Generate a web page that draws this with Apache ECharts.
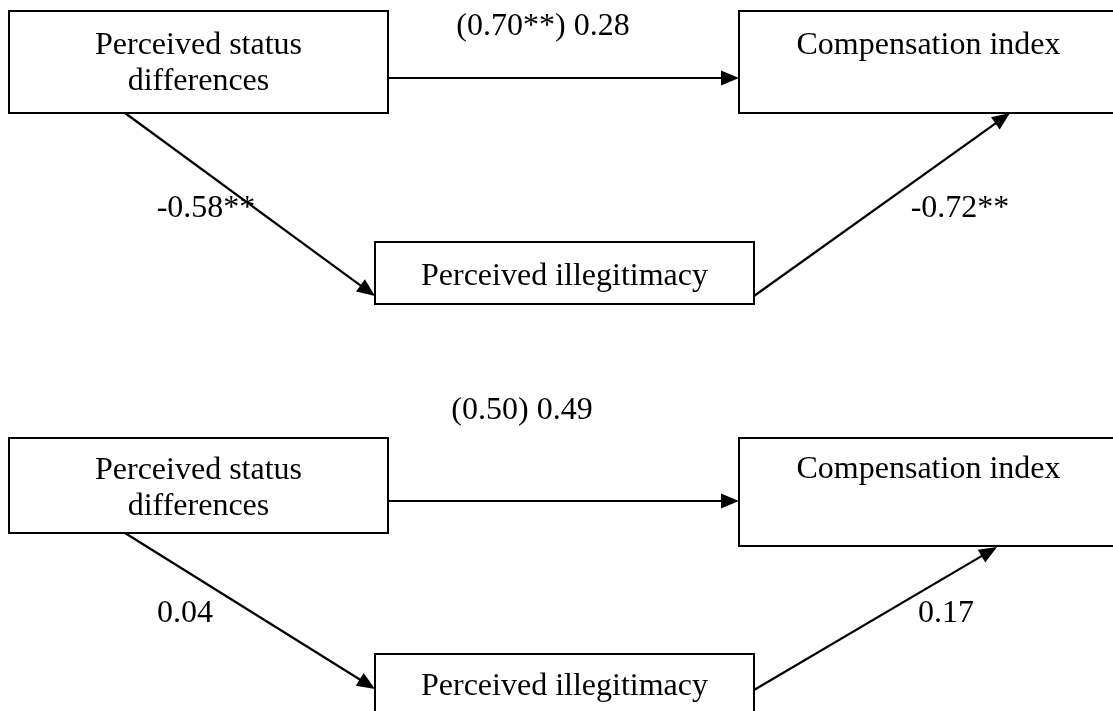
<!DOCTYPE html>
<html>
<head>
<meta charset="utf-8">
<script src="https://cdn.jsdelivr.net/npm/echarts@6/dist/echarts.min.js"></script>
<style>
html,body{margin:0;padding:0;background:#fff;}
#chart{width:1113px;height:711px;}
</style>
</head>
<body>
<div id="chart"></div>
<script>
// ---- Data ----
const nodeNames = ['Perceived status\ndifferences', 'Compensation index', 'Perceived illegitimacy'];
const models = ['Model 1', 'Model 2'];
const totalEffect = [0.70, 0.50];   // c (in parentheses)
const totalSig = ['**', ''];
const directEffect = [0.28, 0.49];  // c'
const directSig = ['', ''];
const pathA = [-0.58, 0.04];        // status -> illegitimacy
const pathASig = ['**', ''];
const pathB = [-0.72, 0.17];        // illegitimacy -> compensation
const pathBSig = ['**', ''];

// ---- Layout (diagram coordinates, 1 unit = 1 px) ----
const layout = [
  {
    boxes: [[9, 11, 388, 113], [739, 11, 1118, 113], [375, 242, 754, 304]],
    textY: [64, 46, 277],
    edges: [[[388, 78], [739, 78]], [[125, 113], [375, 296]], [[754, 296], [1010, 113]]],
    labels: [[543, 27], [206, 209], [960, 209]]
  },
  {
    boxes: [[9, 438, 388, 533], [739, 438, 1118, 546], [375, 654, 754, 716]],
    textY: [489, 470, 687],
    edges: [[[388, 501], [739, 501]], [[125, 533], [375, 689]], [[754, 690], [997, 547]]],
    labels: [[522, 411], [185, 614], [946, 614]]
  }
];

const FONT = '32px "Liberation Serif", "Times New Roman", serif';
const fmt = v => v.toFixed(2);
function edgeLabels(m) {
  return [
    '(' + fmt(totalEffect[m]) + totalSig[m] + ') ' + fmt(directEffect[m]) + directSig[m],
    fmt(pathA[m]) + pathASig[m],
    fmt(pathB[m]) + pathBSig[m]
  ];
}

const boxData = [], edgeData = [], labelData = [];
models.forEach((mName, m) => {
  nodeNames.forEach((n, i) => boxData.push([m, i]));
  [0, 1, 2].forEach(i => edgeData.push([m, i]));
  edgeLabels(m).forEach((t, i) => labelData.push([m, i, t]));
});

const chart = echarts.init(document.getElementById('chart'), null, {renderer: 'canvas'});
chart.setOption({
  animation: false,
  backgroundColor: '#fff',
  grid: {left: 0, right: 0, top: 0, bottom: 0},
  xAxis: {type: 'value', min: 0, max: 1113, show: false},
  yAxis: {type: 'value', min: 0, max: 711, inverse: true, show: false},
  series: [
    {
      type: 'custom',
      data: boxData,
      clip: false,
      renderItem: function (params, api) {
        const m = api.value(0), i = api.value(1);
        const b = layout[m].boxes[i];
        const p1 = api.coord([b[0], b[1]]), p2 = api.coord([b[2], b[3]]);
        const cx = (p1[0] + p2[0]) / 2;
        const ty = api.coord([0, layout[m].textY[i]])[1];
        return {
          type: 'group',
          children: [
            {type: 'rect', shape: {x: p1[0], y: p1[1], width: p2[0] - p1[0], height: p2[1] - p1[1]},
             style: {fill: '#fff', stroke: '#000', lineWidth: 2}},
            {type: 'text', style: {text: nodeNames[i], x: cx, y: ty, align: 'center', verticalAlign: 'middle',
              font: FONT, fill: '#000', lineHeight: 36}}
          ]
        };
      }
    },
    {
      type: 'custom',
      data: edgeData,
      clip: false,
      renderItem: function (params, api) {
        const m = api.value(0), i = api.value(1);
        const e = layout[m].edges[i];
        const s = api.coord(e[0]), t = api.coord(e[1]);
        const dx = t[0] - s[0], dy = t[1] - s[1];
        const len = Math.sqrt(dx * dx + dy * dy);
        const ux = dx / len, uy = dy / len;
        const L = 18, W = 7.5;
        const bx = t[0] - ux * L, by = t[1] - uy * L;
        return {
          type: 'group',
          children: [
            {type: 'line', shape: {x1: s[0], y1: s[1], x2: bx + ux * 2, y2: by + uy * 2},
             style: {stroke: '#000', lineWidth: 2.2}},
            {type: 'polygon', shape: {points: [[t[0], t[1]], [bx - uy * W, by + ux * W], [bx + uy * W, by - ux * W]]},
             style: {fill: '#000'}}
          ]
        };
      }
    },
    {
      type: 'custom',
      data: labelData,
      clip: false,
      renderItem: function (params, api) {
        const m = api.value(0), i = api.value(1);
        const p = api.coord(layout[m].labels[i]);
        return {type: 'text', style: {text: labelData[params.dataIndex][2], x: p[0], y: p[1],
          align: 'center', verticalAlign: 'middle', font: FONT, fill: '#000'}};
      }
    }
  ]
});
</script>
</body>
</html>
